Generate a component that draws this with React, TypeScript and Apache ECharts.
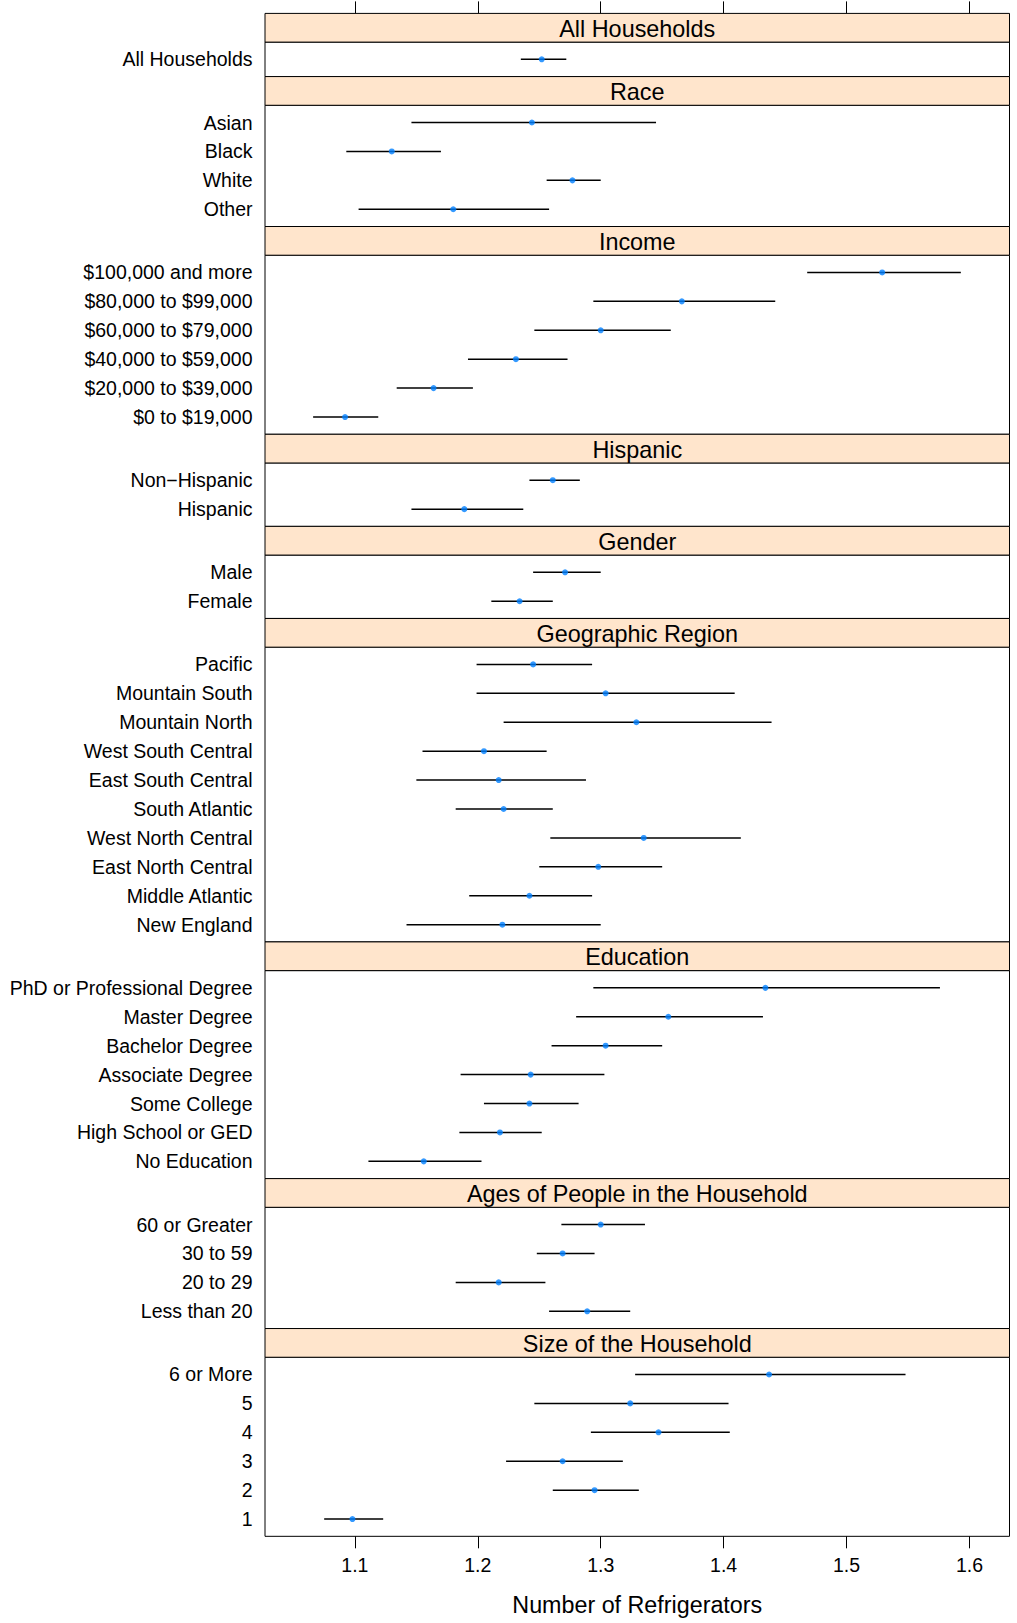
import React, { useEffect, useRef } from "react";
import * as echarts from "echarts";

// ---------- data ----------
const stripTitles = [
  "All Households",
  "Race",
  "Income",
  "Hispanic",
  "Gender",
  "Geographic Region",
  "Education",
  "Ages of People in the Household",
  "Size of the Household",
];

const allLabels = ["All Households"];
const allMean = [1.252];
const allLow = [1.235];
const allHigh = [1.272];

const raceLabels = ["Asian", "Black", "White", "Other"];
const raceMean = [1.244, 1.130, 1.277, 1.180];
const raceLow = [1.146, 1.093, 1.256, 1.103];
const raceHigh = [1.345, 1.170, 1.300, 1.258];

const incomeLabels = [
  "$100,000 and more",
  "$80,000 to $99,000",
  "$60,000 to $79,000",
  "$40,000 to $59,000",
  "$20,000 to $39,000",
  "$0 to $19,000",
];
const incomeMean = [1.529, 1.366, 1.300, 1.231, 1.164, 1.092];
const incomeLow = [1.468, 1.294, 1.246, 1.192, 1.134, 1.066];
const incomeHigh = [1.593, 1.442, 1.357, 1.273, 1.196, 1.119];

const hispLabels = ["Non\u2212Hispanic", "Hispanic"];
const hispMean = [1.261, 1.189];
const hispLow = [1.242, 1.146];
const hispHigh = [1.283, 1.237];

const genderLabels = ["Male", "Female"];
const genderMean = [1.271, 1.234];
const genderLow = [1.245, 1.211];
const genderHigh = [1.300, 1.261];

const regionLabels = [
  "Pacific",
  "Mountain South",
  "Mountain North",
  "West South Central",
  "East South Central",
  "South Atlantic",
  "West North Central",
  "East North Central",
  "Middle Atlantic",
  "New England",
];
const regionMean = [1.245, 1.304, 1.329, 1.205, 1.217, 1.221, 1.335, 1.298, 1.242, 1.220];
const regionLow = [1.199, 1.199, 1.221, 1.155, 1.150, 1.182, 1.259, 1.250, 1.193, 1.142];
const regionHigh = [1.293, 1.409, 1.439, 1.256, 1.288, 1.261, 1.414, 1.350, 1.293, 1.300];

const eduLabels = [
  "PhD or Professional Degree",
  "Master Degree",
  "Bachelor Degree",
  "Associate Degree",
  "Some College",
  "High School or GED",
  "No Education",
];
const eduMean = [1.434, 1.355, 1.304, 1.243, 1.242, 1.218, 1.156];
const eduLow = [1.294, 1.280, 1.260, 1.186, 1.205, 1.185, 1.111];
const eduHigh = [1.576, 1.432, 1.350, 1.303, 1.282, 1.252, 1.203];

const ageLabels = ["60 or Greater", "30 to 59", "20 to 29", "Less than 20"];
const ageMean = [1.300, 1.269, 1.217, 1.289];
const ageLow = [1.268, 1.248, 1.182, 1.258];
const ageHigh = [1.336, 1.295, 1.255, 1.324];

const sizeLabels = ["6 or More", "5", "4", "3", "2", "1"];
const sizeMean = [1.437, 1.324, 1.347, 1.269, 1.295, 1.098];
const sizeLow = [1.328, 1.246, 1.292, 1.223, 1.261, 1.075];
const sizeHigh = [1.548, 1.404, 1.405, 1.318, 1.331, 1.123];

const xTicks = [1.1, 1.2, 1.3, 1.4, 1.5, 1.6];
const xMin = 1.02685;
const xMax = 1.6326;
const xTitle = "Number of Refrigerators";

const groups = [
  { labels: allLabels, mean: allMean, low: allLow, high: allHigh },
  { labels: raceLabels, mean: raceMean, low: raceLow, high: raceHigh },
  { labels: incomeLabels, mean: incomeMean, low: incomeLow, high: incomeHigh },
  { labels: hispLabels, mean: hispMean, low: hispLow, high: hispHigh },
  { labels: genderLabels, mean: genderMean, low: genderLow, high: genderHigh },
  { labels: regionLabels, mean: regionMean, low: regionLow, high: regionHigh },
  { labels: eduLabels, mean: eduMean, low: eduLow, high: eduHigh },
  { labels: ageLabels, mean: ageMean, low: ageLow, high: ageHigh },
  { labels: sizeLabels, mean: sizeMean, low: sizeLow, high: sizeHigh },
];

// ---------- layout ----------
const W = 1017;
const H = 1623;
const LEFT = 265;
const PW = 744.5;
const TOP0 = 13.4;
const STRIP = 28.7;
const UNIT = 28.92;
const PAD = 0.096; // extra range in units beyond +-0.5
const FONT = '"Liberation Sans", Arial, Helvetica, sans-serif';
const STRIP_FILL = "#ffe5cc";
const DOT = "#0080ff";

export default function App() {
  const ref = useRef<HTMLDivElement>(null);

  useEffect(() => {
    if (!ref.current) return;
    const chart = echarts.init(ref.current, null, { renderer: "svg" });

    const grids: any[] = [];
    const xAxes: any[] = [];
    const yAxes: any[] = [];
    const series: any[] = [];
    const graphics: any[] = [];

    let y = TOP0;
    const last = groups.length - 1;
    groups.forEach((g, i) => {
      const n = g.labels.length;
      const stripTop = y;
      const panelTop = stripTop + STRIP;
      const panelH = UNIT * (n + 2 * PAD);
      y = panelTop + panelH;

      graphics.push({
        type: "rect",
        shape: { x: LEFT, y: stripTop, width: PW, height: STRIP },
        style: { fill: STRIP_FILL, stroke: "#000", lineWidth: 1 },
        z: 1,
      });
      graphics.push({
        type: "text",
        x: LEFT + PW / 2,
        y: stripTop + STRIP / 2 + 1,
        style: {
          text: stripTitles[i],
          fontSize: 23.4,
          fontFamily: FONT,
          fill: "#000",
          textAlign: "center",
          textVerticalAlign: "middle",
        },
        z: 2,
      });

      grids.push({
        left: LEFT,
        top: panelTop,
        width: PW,
        height: panelH,
        show: true,
        borderColor: "#000",
        borderWidth: 1,
        backgroundColor: "transparent",
      });

      const isLast = i === last;
      xAxes.push({
        type: "value",
        gridIndex: i,
        min: xMin,
        max: xMax,
        position: "bottom",
        show: isLast,
        splitLine: { show: false },
        axisLine: { show: false },
        axisTick: {
          show: isLast,
          length: 12,
          customValues: xTicks,
          lineStyle: { color: "#000", width: 1 },
        },
        axisLabel: {
          show: isLast,
          customValues: xTicks,
          formatter: (v: number) => v.toFixed(1),
          fontSize: 19.5,
          fontFamily: FONT,
          color: "#000",
          margin: 19,
        },
        name: isLast ? xTitle : "",
        nameLocation: "middle",
        nameGap: 57,
        nameTextStyle: { fontSize: 23.3, fontFamily: FONT, color: "#000" },
      });
      if (i === 0) {
        // ticks along the top of the first strip
        xAxes.push({
          type: "value",
          gridIndex: 0,
          min: xMin,
          max: xMax,
          position: "top",
          offset: STRIP,
          show: true,
          splitLine: { show: false },
          axisLine: { show: false },
          axisTick: {
            show: true,
            length: 12,
            customValues: xTicks,
            lineStyle: { color: "#000", width: 1 },
          },
          axisLabel: {
            show: true,
            customValues: xTicks,
            formatter: () => "",
          },
        });
      }

      const ticks = g.labels.map((_, k) => k + 1);
      yAxes.push({
        type: "value",
        gridIndex: i,
        min: 0.5 - PAD,
        max: n + 0.5 + PAD,
        inverse: true,
        splitLine: { show: false },
        axisLine: { show: false },
        axisTick: { show: false },
        axisLabel: {
          customValues: ticks,
          formatter: (v: number) => g.labels[Math.round(v) - 1] ?? "",
          fontSize: 19.5,
          fontFamily: FONT,
          color: "#000",
          margin: 12.5,
        },
      });
    });

    // series: x axis indices shift by one after the first grid (extra top axis)
    groups.forEach((g, i) => {
      const xi = i === 0 ? 0 : i + 1;
      series.push({
        type: "custom",
        xAxisIndex: xi,
        yAxisIndex: i,
        data: g.labels.map((_, k) => [g.low[k], g.high[k], k + 1]),
        encode: { x: [0, 1], y: 2 },
        renderItem: (params: any, api: any) => {
          const yy = api.value(2);
          const p1 = api.coord([api.value(0), yy]);
          const p2 = api.coord([api.value(1), yy]);
          return {
            type: "line",
            shape: { x1: p1[0], y1: p1[1], x2: p2[0], y2: p2[1] },
            style: { stroke: "#000", lineWidth: 1.5 },
          };
        },
        z: 3,
      });
      series.push({
        type: "scatter",
        xAxisIndex: xi,
        yAxisIndex: i,
        data: g.labels.map((_, k) => [g.mean[k], k + 1]),
        symbol: "circle",
        symbolSize: 6,
        itemStyle: { color: DOT },
        z: 4,
      });
    });

    chart.setOption({
      animation: false,
      backgroundColor: "#fff",
      textStyle: { fontFamily: FONT },
      grid: grids,
      xAxis: xAxes,
      yAxis: yAxes,
      series,
      graphic: graphics,
    });

    return () => chart.dispose();
  }, []);

  return (
    <div style={{ position: "absolute", left: 0, top: 0 }}>
      <div ref={ref} style={{ width: W, height: H }} />
    </div>
  );
}
